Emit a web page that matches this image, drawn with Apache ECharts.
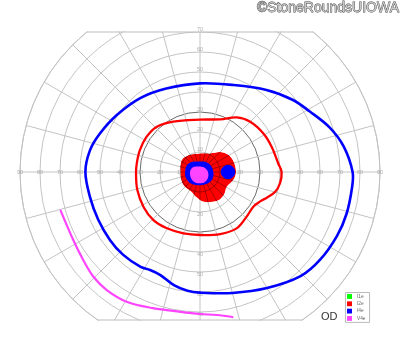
<!DOCTYPE html>
<html><head><meta charset="utf-8">
<script src="https://cdn.jsdelivr.net/npm/echarts@6/dist/echarts.min.js"></script>
<style>html,body{margin:0;padding:0;background:#fff}#c{width:400px;height:352px}</style>
</head><body><div id="c"></div>
<script>
// ---- data (eccentricity in degrees, meridian angle in degrees; 0 = right, 90 = up) ----
const ringValues = [10,20,30,40,50,60,70,80,90];
const verticalRingValues = [10,20,30,40,50,60,70];
const isopterNames = ['I1e','I2e','I4e','V4e'];
const isopterColors = ['#00ff00','#ff0000','#0000ff','#ff44ff'];

const I2e_isopter = [[40.8,0],[39.4,6],[38.0,19],[37.1,31],[35.5,45],[32.9,56],[28.2,69],[26.2,90],[28.5,118],[31.3,134],[32.0,147],[32.0,160],[31.9,172],[32.0,181],[32.6,196],[33.2,212],[33.5,226],[32.7,239],[31.8,255],[31.5,270],[32.6,288],[33.6,303],[32.3,316],[31.8,327],[33.5,334],[35.8,339],[38.8,345],[40.4,352]];
const I2e_central = [[18.0,2.5],[17.5,19],[16.5,32],[14.1,45],[10.5,62],[9.3,90],[10.2,125],[10.9,148],[9.8,180],[10.3,208],[10.6,225],[10.8,247],[12.8,262],[15.0,276.5],[16.3,294],[17.0,305],[16.3,319],[15.3,331],[17.4,349]];
const I4e_isopter = [[76.3,0],[73.0,10],[68.5,19],[62.6,29],[58.7,38],[52.8,51],[46.6,69],[44.3,90],[45.0,112],[47.5,129],[50.5,146],[53.6,159],[56.1,169],[57.3,180],[56.4,193],[56.2,205],[56.4,217],[56.5,227],[56.0,238],[55.0,243],[55.2,249],[58.1,257],[59.7,264],[60.3,270],[62.6,285],[67.0,300],[72.4,314],[74.4,324],[75.6,335],[76.2,344],[76.4,354]];
const I4e_central = [[6.7,0],[6.0,48],[5.3,101],[7.2,146],[7.5,184],[7.6,212],[7.2,236],[6.6,279],[7.1,321]];
const I4e_blindSpot = [[17.6,0],[16.7,8.7],[14.4,14.3],[11.8,12.3],[10.4,0],[11.8,347.7],[14.4,345.7],[16.7,351.3]];
const V4e_arc = [[72.3,195.5],[71.9,208],[73.1,217],[74.7,224.5],[75.2,231.7],[74.5,240.5],[72.0,251],[70.6,262],[71.0,270],[72.0,276.7],[74.3,282.6]];
const V4e_central = [[3.2,39],[2.9,110],[4.5,153],[5.1,191],[5.7,232],[5.7,265],[5.4,304],[4.3,347]];

// ---- layout ----
const CX = 200, CY = 172, R = 180, MAXR = 90;
const clipTopDeg = 70, clipBottomDeg = 74;
const pxPerDeg = R / MAXR;
const spokeStep = 15;

function shapeSeries(name, color, shapes) {
  return {
    name, type: 'custom', coordinateSystem: 'polar', z: 2, silent: true,
    itemStyle: { color },
    data: shapes.map(() => [0, 0]),
    renderItem(params, api) {
      const s = shapes[params.dataIndex];
      const pts = s.points.map(p => api.coord([p[0], p[1]]));
      if (s.fill) {
        const poly = { type: 'polygon', shape: { points: pts, smooth: s.smooth }, style: { fill: color, stroke: 'none' } };
        if (!s.gridOverlay) return poly;
        // grid lines seen through the filled region
        const children = [poly];
        const c0 = api.coord([0, 0]);
        for (let a = 0; a < 360; a += spokeStep) {
          const p1 = api.coord([MAXR / 4, a]);
          children.push({ type: 'line', shape: { x1: c0[0], y1: c0[1], x2: p1[0], y2: p1[1] },
                          style: { stroke: 'rgba(70,0,0,0.45)', lineWidth: 1 } });
        }
        const r10 = api.coord([10, 0])[0] - c0[0];
        children.push({ type: 'circle', shape: { cx: c0[0], cy: c0[1], r: r10 },
                        style: { fill: 'none', stroke: 'rgba(70,0,0,0.45)', lineWidth: 1 } });
        return { type: 'group', children,
                 clipPath: { type: 'polygon', shape: { points: pts, smooth: s.smooth } } };
      }
      return { type: s.closed ? 'polygon' : 'polyline', shape: { points: pts, smooth: s.smooth },
               style: { fill: 'none', stroke: color, lineWidth: s.width, lineJoin: 'round', lineCap: 'round' } };
    }
  };
}

const labelData = [];
ringValues.forEach(r => { labelData.push({ value: [r, 0] }); labelData.push({ value: [r, 180] }); });
verticalRingValues.forEach(r => {
  labelData.push({ value: [r, 90], label: { offset: [0, -2.5] } });
  labelData.push({ value: [r, 270], label: { offset: [0, 2.5] } });
});

const ringColors = ringValues.map(v => v === 30 ? '#6a6a6a' : '#c4c4c4');
ringColors.unshift('#c4c4c4'); // tick at 0

const dyTop = clipTopDeg * pxPerDeg, dyBot = clipBottomDeg * pxPerDeg;
const halfTop = Math.sqrt(R * R - dyTop * dyTop), halfBot = Math.sqrt(R * R - dyBot * dyBot);

const chart = echarts.init(document.getElementById('c'), null, { renderer: 'canvas' });
chart.setOption({
  animation: false,
  backgroundColor: '#fff',
  polar: { center: [CX, CY], radius: R },
  angleAxis: {
    type: 'value', min: 0, max: 360, interval: spokeStep, startAngle: 0, clockwise: false,
    axisLine: { show: true, lineStyle: { color: '#c4c4c4', width: 1 } },
    axisTick: { show: false }, axisLabel: { show: false },
    splitLine: { show: true, lineStyle: { color: '#c4c4c4', width: 1 } }
  },
  radiusAxis: {
    type: 'value', min: 0, max: MAXR, interval: 10,
    axisLine: { show: false }, axisTick: { show: false }, axisLabel: { show: false },
    splitLine: { show: true, lineStyle: { color: ringColors, width: 1 } }
  },
  legend: {
    data: isopterNames, orient: 'vertical', left: 345.5, top: 292.5,
    icon: 'rect', itemWidth: 5, itemHeight: 4.8, itemGap: 2.3,
    padding: [1.5, 4, 1.5, 1.5], borderColor: '#bbb', borderWidth: 1, borderRadius: 0,
    backgroundColor: '#fff', selectedMode: false,
    textStyle: { fontSize: 4.8, color: '#666', fontFamily: 'Liberation Sans', padding: [0,0,0,0] }
  },
  series: [
    {
      name: 'rings', type: 'scatter', coordinateSystem: 'polar', z: 1, silent: true,
      symbolSize: 1, itemStyle: { color: 'rgba(0,0,0,0)' },
      label: { show: true, position: 'inside', formatter: p => String(p.value[0]),
               fontSize: 5.5, color: '#9a9a9a', fontFamily: 'Liberation Sans' },
      data: labelData
    },
    { name: 'I1e', type: 'line', coordinateSystem: 'polar', data: [], itemStyle: { color: isopterColors[0] } },
    shapeSeries('I2e', isopterColors[1], [
      { points: I2e_central, fill: true, smooth: 0.35, gridOverlay: true },
      { points: I2e_isopter, closed: true, smooth: 0.35, width: 2.3 }
    ]),
    shapeSeries('I4e', isopterColors[2], [
      { points: I4e_central, fill: true, smooth: 0.4 },
      { points: I4e_blindSpot, fill: true, smooth: 0.5 },
      { points: I4e_isopter, closed: true, smooth: 0.35, width: 2.6 }
    ]),
    shapeSeries('V4e', isopterColors[3], [
      { points: V4e_central, fill: true, smooth: 0.4 },
      { points: V4e_arc, closed: false, smooth: 0.35, width: 2.2 }
    ])
  ],
  graphic: [
    { type: 'rect', z: 1, silent: true, shape: { x: 0, y: 0, width: 400, height: CY - dyTop - 0.5 }, style: { fill: '#fff' } },
    { type: 'rect', z: 1, silent: true, shape: { x: 0, y: CY + dyBot + 0.5, width: 400, height: 352 }, style: { fill: '#fff' } },
    { type: 'line', z: 1, silent: true, shape: { x1: CX - halfTop, y1: CY - dyTop, x2: CX + halfTop, y2: CY - dyTop }, style: { stroke: '#bdbdbd', lineWidth: 1 } },
    { type: 'line', z: 1, silent: true, shape: { x1: CX - halfBot, y1: CY + dyBot, x2: CX + halfBot, y2: CY + dyBot }, style: { stroke: '#bdbdbd', lineWidth: 1 } },
    { type: 'text', z: 10, silent: true, x: 399, y: 8.5,
      style: { text: '©StoneRoundsUIOWA', align: 'right', verticalAlign: 'middle', font: '14px "Liberation Sans"',
               fill: '#c8c8c8', stroke: '#3a3a3a', lineWidth: 0.8 } },
    { type: 'text', z: 10, silent: true, x: 321, y: 316.5,
      style: { text: 'OD', align: 'left', verticalAlign: 'middle', font: '11px "Liberation Sans"', fill: '#333' } }
  ]
});
</script></body></html>
